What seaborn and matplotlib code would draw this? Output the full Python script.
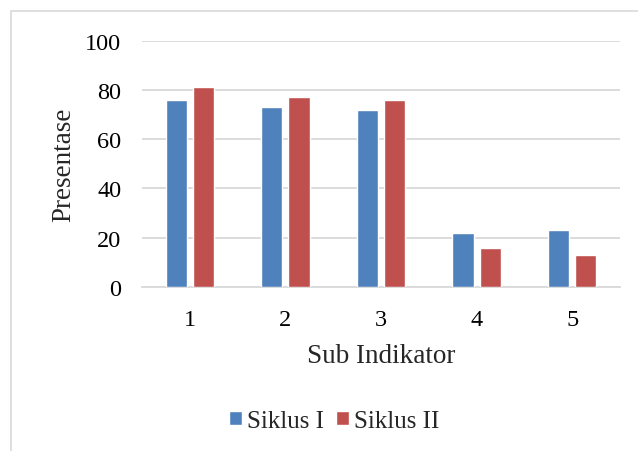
import pandas as pd
import seaborn as sns
import matplotlib.pyplot as plt
from matplotlib.patches import Rectangle

# data
sub_indikator = ['1', '2', '3', '4', '5']
siklus_1 = [76, 73, 72, 22, 23]
siklus_2 = [81, 77, 76, 16, 13]
series = ['Siklus I', 'Siklus II']

df = pd.DataFrame({
    'Sub Indikator': sub_indikator * 2,
    'Presentase': siklus_1 + siklus_2,
    'Siklus': [series[0]] * 5 + [series[1]] * 5,
})

sns.set_theme(style='white')
plt.rcParams['font.family'] = ['Liberation Serif', 'DejaVu Serif']

fig = plt.figure(figsize=(6.38, 4.52), dpi=100)
ax = fig.add_axes([142 / 638, 1 - 288 / 452, (620 - 142) / 638, (288 - 41.7) / 452])

sns.barplot(data=df, x='Sub Indikator', y='Presentase', hue='Siklus',
            order=sub_indikator, hue_order=series,
            palette=['#4F81BD', '#C0504D'], width=0.57, gap=0.22,
            saturation=1, ax=ax, zorder=3)

ax.set_ylim(0, 100)
ax.set_yticks(range(0, 101, 20))
ax.grid(axis='y', color='#d9d9d9', linewidth=1.3, zorder=0)
for s in ['top', 'right', 'left']:
    ax.spines[s].set_visible(False)
ax.spines['bottom'].set_color('#d9d9d9')
ax.spines['bottom'].set_linewidth(1.3)
ax.tick_params(axis='both', length=0, labelsize=17.5, colors='black')
ax.tick_params(axis='y', pad=15)
ax.tick_params(axis='x', pad=16)
ax.set_xlabel('Sub Indikator', fontsize=19.5, labelpad=9)
ax.set_ylabel('Presentase', fontsize=19.5, labelpad=6)

ax.legend(loc='center', bbox_to_anchor=(334 / 638, 1 - 422 / 452),
          bbox_transform=fig.transFigure, ncol=2, frameon=False,
          fontsize=18, handlelength=0.5, handleheight=0.5,
          handletextpad=0.2, columnspacing=0.5)

# chart area border like the original
fig.patches.append(Rectangle((11 / 638, -0.1), 1.0, 1 - 12 / 452 + 0.1,
                             transform=fig.transFigure, fill=False,
                             edgecolor='#d9d9d9', linewidth=1.2))

fig.savefig('out.png', dpi=100)
